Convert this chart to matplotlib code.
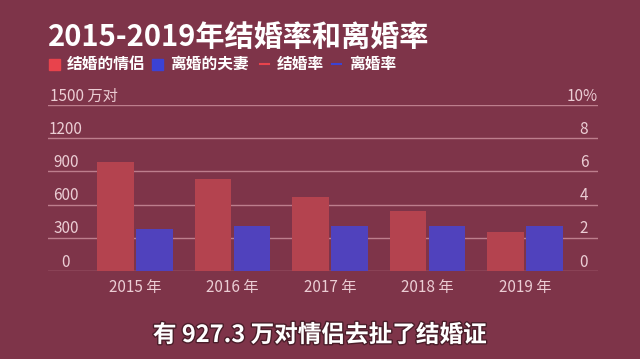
import matplotlib.pyplot as plt
import matplotlib.transforms as mtransforms
import matplotlib.patheffects as pe
from matplotlib.patches import Rectangle
from matplotlib.lines import Line2D
import numpy as np

plt.rcParams['font.family'] = ['Noto Sans CJK SC', 'DejaVu Sans']

## datos (animación a medias)
years = ['2015 年', '2016 年', '2017 年', '2018 年', '2019 年']
jiehun = [982, 836, 673, 545, 355]      # 结婚的情侣 (万对)
lihun = [382, 408, 410, 410, 410]       # 离婚的夫妻 (万对)
left_ticks = [0, 300, 600, 900, 1200, 1500]
left_labels = ['0', '300', '600', '900', '1200', '1500 万对']
right_ticks = [0, 2, 4, 6, 8, 10]
right_labels = ['0', '2', '4', '6', '8', '10%']

bg = '#7e3449'
red = '#b4434f'
blue = '#5042bd'
grid_c = '#bd7e8d'
txt_c = '#ebcdd4'

fig = plt.figure(figsize=(6.4, 3.59), dpi=100, facecolor=bg)
ax1 = fig.add_axes([0.075, 0.245, 0.859, 0.4624])
ax1.set_facecolor('none')

x = np.arange(len(years))
w = 0.375
ax1.bar(x - 0.2, jiehun, w, color=red, zorder=2)
ax1.bar(x + 0.2, lihun, w, color=blue, zorder=2)

for t in left_ticks:
    ax1.axhline(t, color=grid_c, linewidth=1, zorder=1)

ax1.set_xlim(-0.892, 4.749)
ax1.set_ylim(0, 1500)
ax1.set_xticks(x)
ax1.set_xticklabels(years, color=txt_c, fontsize=11, fontweight='light')
ax1.tick_params(axis='x', length=0, pad=6)
ax1.set_yticks([])
for axis in ['top', 'bottom', 'left', 'right']:
    ax1.spines[axis].set_visible(False)

## eje derecho para las tasas
ax2 = ax1.twinx()
ax2.set_ylim(0, 10)
ax2.set_yticks([])
for axis in ['top', 'bottom', 'left', 'right']:
    ax2.spines[axis].set_visible(False)

## etiquetas del eje y encima de las líneas
tl = mtransforms.blended_transform_factory(fig.transFigure, ax1.transData)
tl = mtransforms.offset_copy(tl, fig=fig, y=9, units='dots')
for t, lab in zip(left_ticks, left_labels):
    if lab.endswith('万对'):
        ax1.text(50 / 640, t, lab, transform=tl, ha='left', va='center', color=txt_c,
                 fontsize=11, fontweight='light')
    else:
        ax1.text(66 / 640, t, lab, transform=tl, ha='center', va='center', color=txt_c,
                 fontsize=11, fontweight='light')

tr = mtransforms.blended_transform_factory(fig.transFigure, ax2.transData)
tr = mtransforms.offset_copy(tr, fig=fig, y=9, units='dots')
for t, lab in zip(right_ticks, right_labels):
    if lab.endswith('%'):
        ax2.text(598 / 640, t, lab, transform=tr, ha='right', va='center', color=txt_c,
                 fontsize=11, fontweight='light')
    else:
        ax2.text(584 / 640, t, lab, transform=tr, ha='center', va='center', color=txt_c,
                 fontsize=11, fontweight='light')

## título
fig.text(48 / 640, 1 - 37 / 359, '2015-2019年结婚率和离婚率', color='white', fontsize=21,
         fontweight='heavy', ha='left', va='center')

## leyenda a mano
ly = 1 - 64 / 359
fig.patches.append(Rectangle((49 / 640, ly - 5.5 / 359), 11 / 640, 11 / 359,
                             transform=fig.transFigure, color='#e8434c'))
fig.text(67 / 640, ly, '结婚的情侣', color='white', fontsize=11.3, fontweight='bold', va='center')
fig.patches.append(Rectangle((152 / 640, ly - 5.5 / 359), 11 / 640, 11 / 359,
                             transform=fig.transFigure, color='#3b42d4'))
fig.text(170 / 640, ly, '离婚的夫妻', color='white', fontsize=11.3, fontweight='bold', va='center')
fig.lines.append(Line2D([260 / 640, 269 / 640], [ly, ly], transform=fig.transFigure,
                        color='#e8434c', linewidth=1.5))
fig.text(277 / 640, ly, '结婚率', color='white', fontsize=11.3, fontweight='bold', va='center')
fig.lines.append(Line2D([332 / 640, 341 / 640], [ly, ly], transform=fig.transFigure,
                        color='#3b42d4', linewidth=1.5))
fig.text(349 / 640, ly, '离婚率', color='white', fontsize=11.3, fontweight='bold', va='center')

## subtítulo
fig.text(320 / 640, 1 - 335 / 359, '有 927.3 万对情侣去扯了结婚证', color='white', fontsize=17,
         fontweight='bold', ha='center', va='center',
         path_effects=[pe.withStroke(linewidth=2, foreground='#4a1e2a')])

plt.savefig('out.png', dpi=100, facecolor=bg)
